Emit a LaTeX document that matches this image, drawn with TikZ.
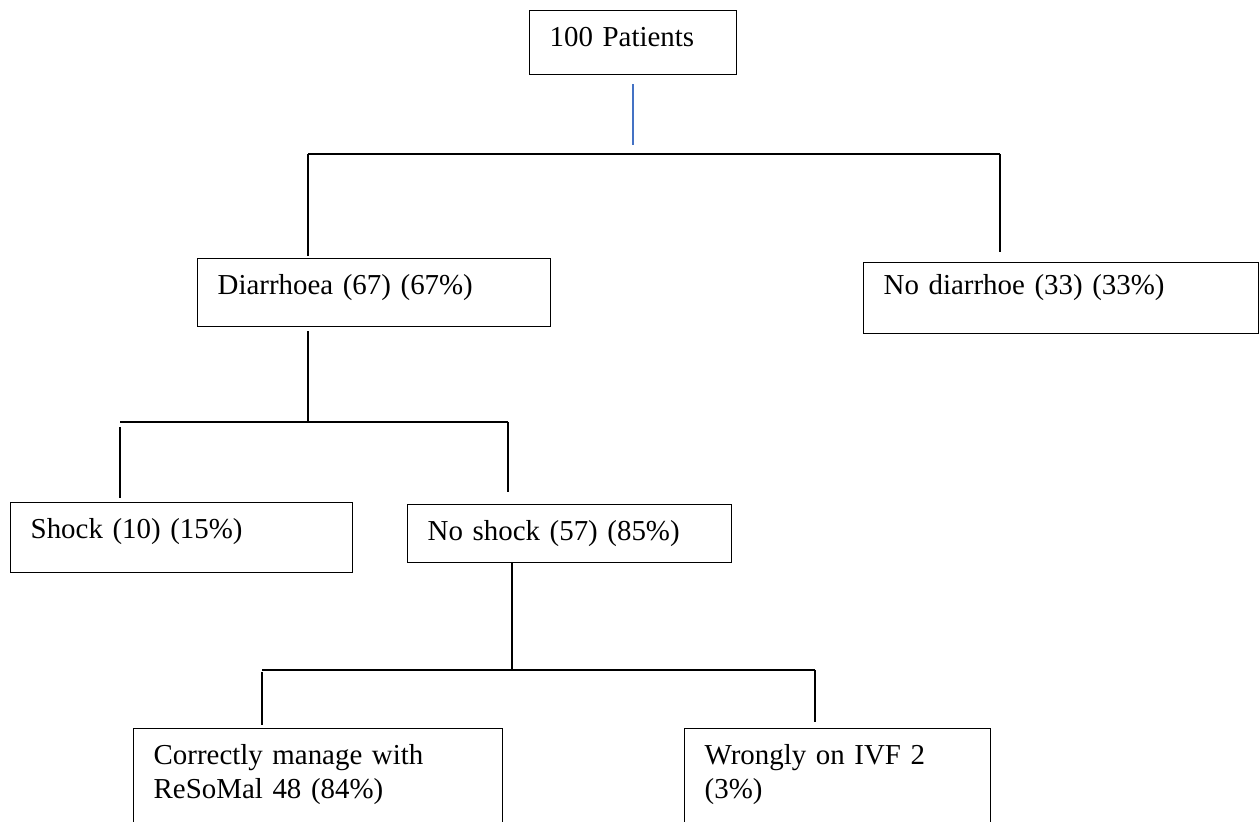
\documentclass[tikz,border=0pt]{standalone}
\usepackage{fontspec}
\setmainfont{Liberation Serif}
\usetikzlibrary{positioning}

\definecolor{feedblue}{RGB}{68,114,196}

\tikzset{
  box/.style={draw, line width=0.7pt, anchor=north west, align=left,
    inner xsep=10pt, inner ysep=0pt, text height=18pt,
    font=\fontsize{14.45pt}{17pt}\selectfont},
  tallbox/.style={draw, line width=0.7pt, anchor=north west, align=left,
    inner xsep=10pt, inner ysep=8pt, text depth=30pt,
    font=\fontsize{14.45pt}{17pt}\selectfont},
  link/.style={draw, line width=1pt},
  feed/.style={draw=feedblue, line width=0.8pt}
}

\begin{document}
\begin{tikzpicture}[x=0.5pt, y=-0.5pt]
    \clip (0,0) rectangle (1259,822);

    % Define nodes
    \node[box, text width=83.5pt, text depth=14pt]   (patients) at (529,10) {100 Patients};
    \node[box, text width=156.5pt, text depth=16pt]  (diarr) at (197,258) {Diarrhoea (67) (67\%)};
    \node[box, text width=177.5pt, text height=16pt, text depth=19.5pt] (nodiarr) at (863,262) {No diarrhoe (33) (33\%)};
    \node[box, text width=151pt, text depth=17pt]    (shock) at (10,502) {Shock (10) (15\%)};
    \node[box, text width=142pt, text depth=11pt]    (noshock) at (407,504) {No shock (57) (85\%)};
    \node[tallbox, text width=164.5pt] (resomal) at (133,728) {Correctly manage with\\ReSoMal 48 (84\%)};
    \node[tallbox, text width=133pt]   (ivf) at (684,728) {Wrongly on IVF 2\\(3\%)};

    % Branch points
    \coordinate (split1-l) at (308,154);
    \coordinate (split1-r) at (1000,154);
    \coordinate (split2-l) at (120,422);
    \coordinate (split2-r) at (508,422);
    \coordinate (split3-l) at (262,670);
    \coordinate (split3-r) at (815,670);

    % Connect the nodes
    \draw[feed, shorten <=4.5pt, shorten >=4.5pt] (patients.south) -- (patients.south |- split1-l);
    \draw[link] (split1-l) -- (split1-r);
    \draw[link, shorten >=1pt] (split1-l) -- (split1-l |- diarr.north);
    \draw[link, shorten >=5pt] (split1-r) -- (split1-r |- nodiarr.north);

    \draw[link, shorten <=2pt] (split1-l |- diarr.south) -- (split1-l |- split2-l);
    \draw[link] (split2-l) -- (split2-r);
    \draw[link, shorten <=2.5pt, shorten >=2pt] (split2-l) -- (split2-l |- shock.north);
    \draw[link, shorten >=6pt] (split2-r) -- (split2-r |- noshock.north);

    \draw[link] (noshock.south -| 512,0) -- (512,0 |- split3-l);
    \draw[link] (split3-l) -- (split3-r);
    \draw[link, shorten <=1pt, shorten >=1.5pt] (split3-l) -- (split3-l |- resomal.north);
    \draw[link, shorten >=3pt] (split3-r) -- (split3-r |- ivf.north);

\end{tikzpicture}
\end{document}
